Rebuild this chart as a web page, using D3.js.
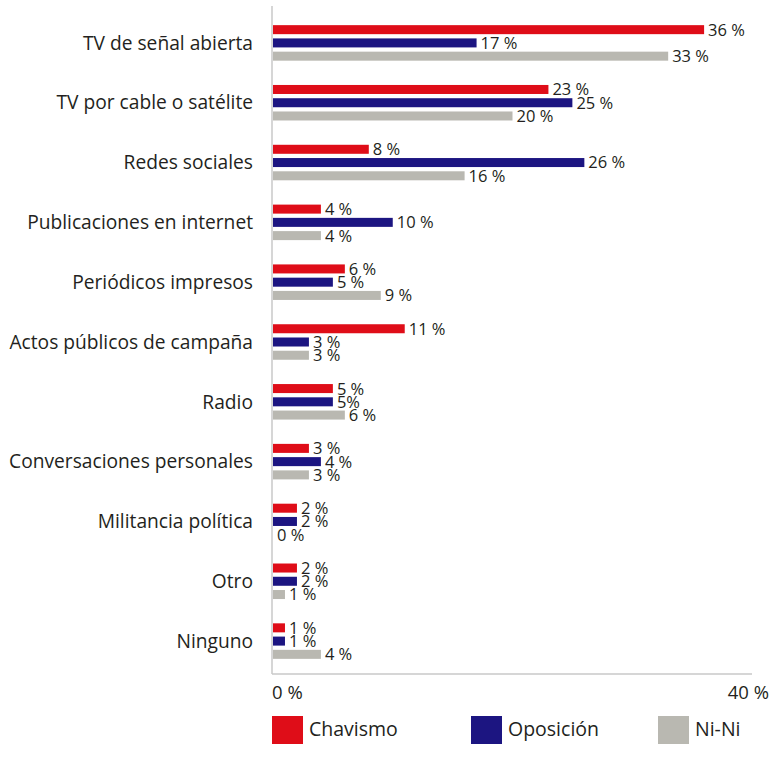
<!DOCTYPE html>
<html>
<head>
<meta charset="utf-8">
<script src="https://cdn.jsdelivr.net/npm/d3@7/dist/d3.min.js"></script>
<style>
  html, body { margin: 0; padding: 0; background: #fff; }
  svg { display: block; font-family: "Open Sans", "DejaVu Sans", sans-serif; }
</style>
</head>
<body>
<svg id="chart" width="772" height="759"></svg>
<script>
// Medios por los que se informa cada grupo político (%)
const categories = [
  "TV de señal abierta",
  "TV por cable o satélite",
  "Redes sociales",
  "Publicaciones en internet",
  "Periódicos impresos",
  "Actos públicos de campaña",
  "Radio",
  "Conversaciones personales",
  "Militancia política",
  "Otro",
  "Ninguno"
];
const seriesNames = ["Chavismo", "Oposición", "Ni-Ni"];
const chavismo  = [36, 23, 8, 4, 6, 11, 5, 3, 2, 2, 1];
const oposicion = [17, 25, 26, 10, 5, 3, 5, 4, 2, 2, 1];
const nini      = [33, 20, 16, 4, 9, 3, 6, 3, 0, 1, 4];
const seriesColors = ["#df0d18", "#1c1581", "#b9b8b1"];
const axisTicks = [0, 40];
// Etiquetas escritas sin espacio antes del signo %
const compactLabels = [["Radio", "Oposición"]];

const series = [chavismo, oposicion, nini];
const svg = d3.select("#chart");

const x = d3.scaleLinear().domain([0, 40]).range([273, 752]);
const y = d3.scaleBand().domain(categories).range([13, 671]).paddingInner(0).paddingOuter(0);
const yInner = d3.scaleBand().domain(seriesNames).range([-22, 22]).padding(0.32);

const fmt = (cat, name, v) =>
  compactLabels.some(([c, s]) => c === cat && s === name) ? `${v}%` : `${v} %`;

// ejes: línea vertical y línea base
svg.append("line")
  .attr("x1", 272).attr("x2", 272)
  .attr("y1", 6).attr("y2", 674)
  .attr("stroke", "#c9c9c9").attr("stroke-width", 1.5);
svg.append("line")
  .attr("x1", 272).attr("x2", 752)
  .attr("y1", 674).attr("y2", 674)
  .attr("stroke", "#c9c9c9").attr("stroke-width", 1.5);

// etiquetas de categoría
svg.append("g").selectAll("text")
  .data(categories)
  .join("text")
  .attr("x", 253)
  .attr("y", d => y(d) + y.bandwidth() / 2)
  .attr("dy", "0.35em")
  .attr("text-anchor", "end")
  .attr("font-size", 19.2)
  .attr("fill", "#231f20")
  .text(d => d);

// barras y valores
const groups = svg.append("g").selectAll("g")
  .data(categories)
  .join("g")
  .attr("transform", d => `translate(0,${y(d) + y.bandwidth() / 2})`);

seriesNames.forEach((name, si) => {
  groups.append("rect")
    .attr("x", x(0))
    .attr("y", yInner(name))
    .attr("width", (d, i) => x(series[si][i]) - x(0))
    .attr("height", yInner.bandwidth())
    .attr("fill", seriesColors[si]);
  groups.append("text")
    .attr("x", (d, i) => x(series[si][i]) + 4)
    .attr("y", yInner(name) + yInner.bandwidth() / 2)
    .attr("dy", "0.36em")
    .attr("font-size", 16.5)
    .attr("fill", "#231f20")
    .text((d, i) => fmt(d, name, series[si][i]));
});

// etiquetas del eje x
svg.append("g").selectAll("text")
  .data(axisTicks)
  .join("text")
  .attr("x", (d, i) => i === 0 ? x(d) - 1 : x(d) + 17)
  .attr("y", 699)
  .attr("text-anchor", (d, i) => i === 0 ? "start" : "end")
  .attr("font-size", 18.5)
  .attr("fill", "#231f20")
  .text(d => `${d} %`);

// leyenda
const legendX = [272, 471, 658];
const legend = svg.append("g").selectAll("g")
  .data(seriesNames)
  .join("g")
  .attr("transform", (d, i) => `translate(${legendX[i]},716)`);
legend.append("rect")
  .attr("width", 31).attr("height", 28)
  .attr("fill", (d, i) => seriesColors[i]);
legend.append("text")
  .attr("x", 37).attr("y", 13)
  .attr("dy", "0.35em")
  .attr("font-size", 19.5)
  .attr("fill", "#231f20")
  .text(d => d);
</script>
</body>
</html>
